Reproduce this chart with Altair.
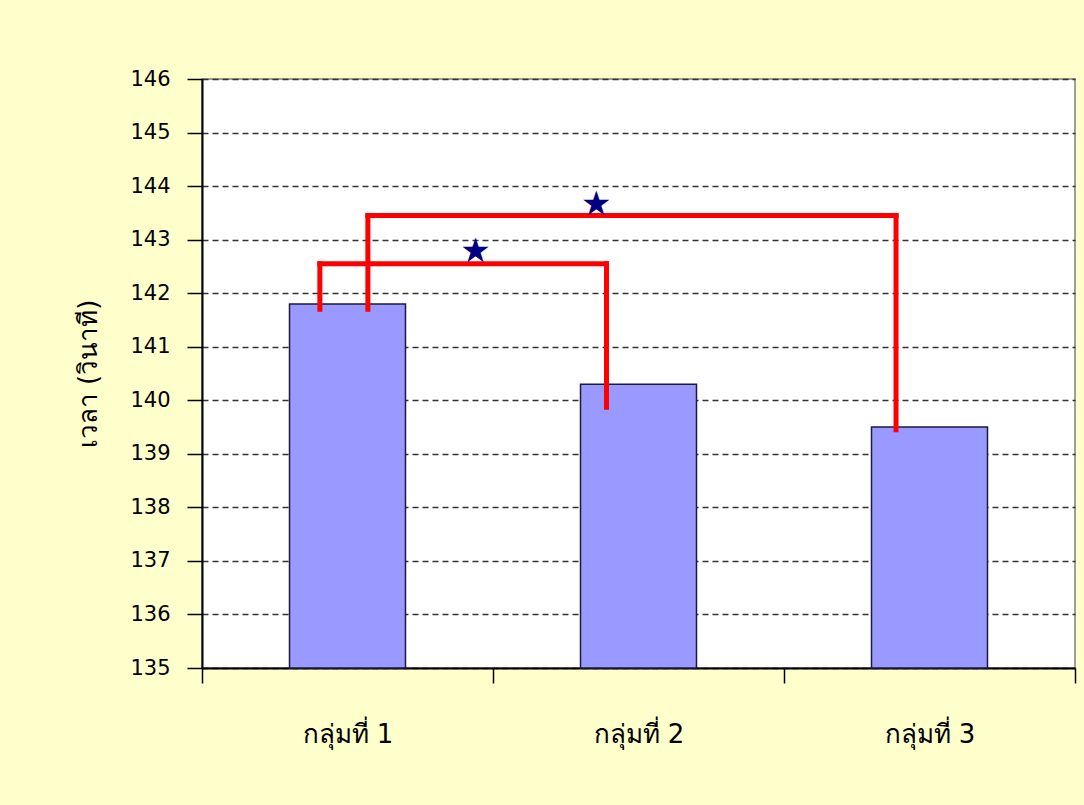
import json
import altair as alt
import pandas as pd

# ---- data ----
groups = ["กลุ่มที่ 1", "กลุ่มที่ 2", "กลุ่มที่ 3"]
times = [141.8, 140.3, 139.5]
y_ticks = list(range(135, 147))
Y_MIN, Y_MAX = 135, 146

# significance brackets (x in category units: 0..3, one unit per group)
br_left_x = [0.405, 0.57]
br_right_x = [1.39, 2.385]
br_top_y = [142.55, 143.45]
br_left_bottom = [141.7, 141.7]
br_right_bottom = [139.87, 139.45]

star_x = [0.94, 1.355]
star_y = [142.77, 143.65]

W, H = 873, 589
NUM_FONT = "DejaVu Sans"

bars_df = pd.DataFrame({"grp": groups, "time": times})

# each bracket -> three straight segments (left leg, top bar, right leg)
seg_rows = []
for xl, xr, yt, ybl, ybr in zip(br_left_x, br_right_x, br_top_y, br_left_bottom, br_right_bottom):
    seg_rows.append({"sx1": xl, "sx2": xl, "sy1": ybl, "sy2": yt})
    seg_rows.append({"sx1": xl, "sx2": xr, "sy1": yt, "sy2": yt})
    seg_rows.append({"sx1": xr, "sx2": xr, "sy1": yt, "sy2": ybr})
seg_df = pd.DataFrame(seg_rows)
st_df = pd.DataFrame({"px": star_x, "py": star_y})

n = len(groups)
yscale = alt.Scale(domain=[Y_MIN, Y_MAX], zero=False, nice=False)
xscale = alt.Scale(domain=[0, n], nice=False, zero=False, padding=0)
x_tick_vals = list(range(n + 1))
groups_js = json.dumps(groups, ensure_ascii=False)

bars = alt.Chart(bars_df).transform_calculate(
    pos=f"indexof({groups_js}, datum.grp) + 0.5"
).mark_bar(
    fill="#9999FF", stroke="#1a1a40", strokeWidth=1.5, size=116
).encode(
    x=alt.X("pos:Q", scale=xscale, title=None,
            axis=alt.Axis(values=x_tick_vals,
                          labelExpr=f"datum.value < {n} ? {groups_js}[floor(datum.value)] : ''",
                          labelOffset=W / n / 2,
                          labelAngle=0, tickSize=15, tickColor="black",
                          tickWidth=1.5, domainColor="black", domainWidth=2,
                          labelFont=NUM_FONT, labelFontSize=26, labelColor="black",
                          labelPadding=38, labelFlush=False, labelOverlap=False,
                          grid=False)),
    y=alt.Y("time:Q", scale=yscale,
            axis=alt.Axis(values=y_ticks, tickSize=15, tickColor="black", tickWidth=1.5,
                          domainColor="black", domainWidth=2, labelFont=NUM_FONT,
                          labelFontSize=21, labelColor="black", labelPadding=17,
                          title="เวลา (วินาที)", titleFont=NUM_FONT, titleFontSize=26,
                          titleFontWeight="normal", titleColor="black", titlePadding=28,
                          grid=True, gridColor="#333333", gridWidth=1.5, gridDash=[6, 4])),
    y2=alt.Y2(datum=Y_MIN),
)

brackets = alt.Chart(seg_df).transform_calculate(
    ax1="datum.sx1", ax2="datum.sx2", ay1="datum.sy1", ay2="datum.sy2"
).mark_rule(color="#FF0000", strokeWidth=5, strokeCap="square").encode(
    x=alt.X("ax1:Q", scale=xscale),
    x2="ax2:Q",
    y=alt.Y("ay1:Q", scale=yscale),
    y2="ay2:Q",
)

stars = alt.Chart(st_df).transform_calculate(
    qx="datum.px", qy="datum.py"
).mark_text(text="★", font=NUM_FONT, fontSize=34, color="#000080", baseline="middle", align="center").encode(
    x=alt.X("qx:Q", scale=xscale),
    y=alt.Y("qy:Q", scale=yscale),
)

chart = alt.layer(bars, brackets, stars).properties(
    width=W, height=H,
    autosize=alt.AutoSizeParams(type="none"),
    padding={"left": 202, "top": 79, "right": 9, "bottom": 137},
    background="#FFFFCC",
).configure_view(fill="white", stroke="#808080", strokeWidth=1.5)

chart.save("out.html", embed_options={"renderer": "svg", "actions": False})
